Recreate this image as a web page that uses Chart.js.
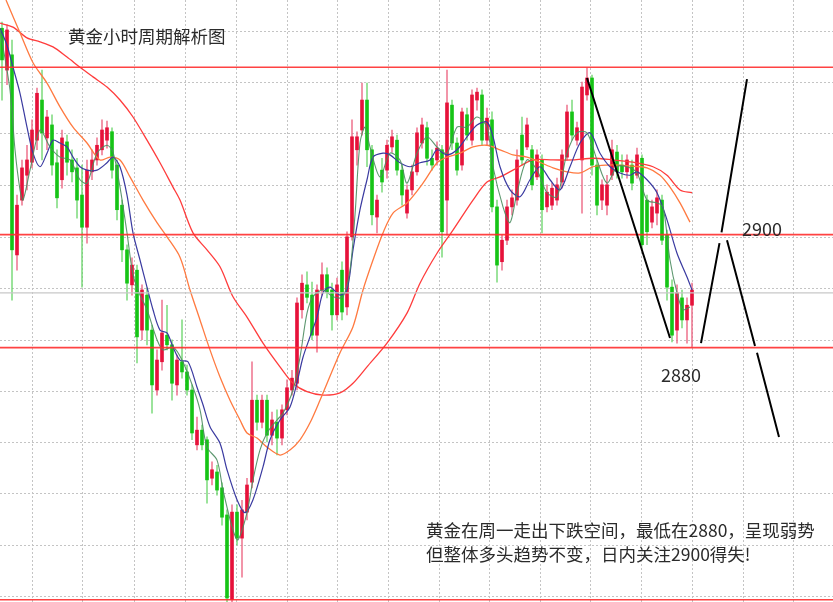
<!DOCTYPE html>
<html>
<head>
<meta charset="utf-8">
<script src="https://cdn.jsdelivr.net/npm/chart.js@4.4.1/dist/chart.umd.min.js"></script>
<style>
html,body{margin:0;padding:0;background:#fff;}
#wrap{position:relative;width:833px;height:602px;overflow:hidden;background:#fff;}
canvas{display:block;}
.t{position:absolute;font-family:"Noto Sans CJK SC",sans-serif;color:#2b2b2b;line-height:1;white-space:nowrap;}
</style>
</head>
<body>
<div id="wrap">
  <canvas id="c" width="833" height="602"></canvas>
  <div class="t" style="left:68px;top:26.5px;font-size:17.5px">黄金小时周期解析图</div>
  <div class="t" style="left:742px;top:219px;font-size:18px">2900</div>
  <div class="t" style="left:661px;top:364.5px;font-size:18px">2880</div>
  <div class="t" style="left:426px;top:520.5px;font-size:17.5px">黄金在周一走出下跌空间，最低在2880，呈现弱势</div>
  <div class="t" style="left:426px;top:545px;font-size:17.5px">但整体多头趋势不变，日内关注2900得失!</div>
</div>
<script>
// hourly gold candles (bar index 0..138)
const open = [2936.5,2929.1,2931.8,2896.4,2906.1,2910.5,2912.8,2916.7,2923.8,2917.1,
  2919.4,2912.7,2909.7,2916.4,2913.2,2911.8,2907.0,2901.3,2911.1,2913.2,
  2915.0,2916.7,2918.2,2912.3,2905.2,2897.3,2891.1,2893.7,2883.1,2889.3,
  2883.1,2872.5,2877.5,2882.2,2880.5,2873.4,2877.5,2875.7,2872.5,2862.8,
  2865.4,2863.7,2856.9,2858.0,2855.2,2850.4,2835.4,2850.9,2846.3,2850.9,
  2856.2,2870.7,2866.8,2870.7,2864.5,2866.8,2864.0,2869.0,2872.5,2873.7,
  2886.7,2891.1,2889.3,2882.2,2890.2,2892.9,2890.2,2885.8,2893.7,2887.2,
  2899.6,2915.0,2918.5,2923.8,2915.0,2903.1,2911.4,2911.4,2915.5,2916.7,
  2911.4,2903.8,2907.9,2911.1,2916.2,2918.9,2913.5,2913.2,2915.0,2906.1,
  2922.9,2916.2,2912.3,2921.2,2916.7,2923.8,2924.7,2916.7,2920.3,2904.9,
  2895.2,2899.0,2904.9,2906.1,2917.6,2915.5,2915.0,2910.2,2913.2,2904.9,
  2905.2,2906.1,2909.3,2913.7,2921.7,2916.7,2913.2,2924.7,2927.7,2912.3,
  2906.1,2905.2,2910.5,2914.6,2912.3,2911.1,2912.3,2910.5,2913.5,2906.1,
  2902.2,2903.8,2906.1,2899.9,2890.7,2883.1,2888.8,2884.9,2887.5];
const close = [2930.9,2936.2,2897.3,2905.2,2911.8,2913.2,2918.5,2925.0,2918.0,2920.8,
  2912.3,2906.5,2917.1,2912.8,2911.1,2906.1,2901.3,2911.4,2913.2,2915.8,
  2918.5,2918.9,2911.4,2904.4,2897.3,2891.4,2894.6,2881.9,2890.2,2883.1,
  2873.4,2877.8,2882.6,2880.5,2873.7,2877.8,2875.7,2872.5,2864.9,2865.4,
  2862.8,2856.6,2858.4,2854.8,2850.0,2835.7,2850.9,2846.3,2851.3,2855.7,
  2870.7,2866.8,2870.7,2864.5,2867.2,2864.0,2869.0,2872.9,2874.6,2887.9,
  2891.4,2888.9,2882.2,2890.2,2892.9,2889.8,2885.8,2891.1,2886.3,2899.6,
  2917.3,2917.3,2923.8,2915.0,2903.5,2906.1,2909.3,2915.8,2917.3,2911.4,
  2907.0,2907.9,2911.1,2918.0,2919.4,2913.5,2912.3,2915.3,2900.5,2923.3,
  2916.2,2911.4,2921.7,2917.6,2924.7,2925.2,2916.7,2920.6,2904.9,2894.6,
  2899.0,2904.9,2906.5,2913.2,2913.2,2919.4,2908.8,2914.1,2904.4,2907.5,
  2908.2,2908.8,2914.1,2921.7,2917.6,2918.9,2926.1,2927.7,2912.3,2905.2,
  2908.8,2908.8,2915.0,2911.1,2911.1,2913.2,2909.1,2914.1,2898.2,2900.5,
  2904.9,2906.5,2899.0,2890.7,2882.2,2889.7,2884.9,2887.5,2890.2];
const high = [2937.6,2937.1,2934.4,2907.0,2913.2,2915.8,2920.3,2925.9,2929.1,2922.0,
  2921.2,2915.0,2918.5,2917.6,2915.0,2913.5,2912.3,2913.2,2915.0,2917.1,
  2920.3,2920.1,2918.9,2913.2,2906.1,2898.2,2895.9,2894.6,2891.1,2890.6,
  2884.0,2879.6,2888.4,2887.5,2881.4,2878.7,2884.9,2876.9,2873.4,2867.7,
  2866.3,2864.2,2859.8,2859.2,2856.1,2851.3,2852.2,2852.2,2853.0,2856.9,
  2877.5,2871.6,2871.6,2871.6,2868.6,2869.0,2869.9,2874.3,2876.0,2888.8,
  2892.9,2893.4,2891.6,2891.1,2895.0,2894.1,2891.4,2892.3,2895.2,2900.5,
  2920.3,2918.2,2926.8,2926.8,2915.8,2907.0,2913.5,2916.7,2918.5,2917.6,
  2912.3,2908.8,2912.3,2918.9,2920.6,2919.9,2915.0,2916.4,2915.8,2929.1,
  2923.8,2917.1,2922.4,2922.4,2925.6,2925.9,2925.6,2922.4,2921.7,2906.1,
  2899.9,2906.1,2907.9,2915.0,2920.8,2920.6,2915.8,2915.0,2914.1,2908.8,
  2909.1,2910.0,2915.0,2922.9,2923.8,2919.9,2927.0,2929.5,2928.2,2913.2,
  2909.7,2910.5,2916.7,2915.8,2914.1,2914.1,2913.2,2915.3,2914.1,2907.0,
  2906.1,2907.9,2907.0,2900.8,2892.0,2891.1,2890.2,2888.8,2891.4];
const low = [2923.8,2926.5,2888.4,2893.7,2905.2,2907.9,2911.8,2915.0,2913.2,2915.0,
  2910.5,2904.7,2908.2,2910.5,2909.3,2902.9,2890.7,2898.5,2909.7,2912.3,
  2914.1,2915.3,2910.0,2902.6,2895.2,2888.4,2889.3,2877.3,2881.4,2880.5,
  2868.4,2871.6,2876.0,2879.6,2870.7,2871.6,2874.6,2871.6,2863.7,2861.9,
  2861.9,2852.5,2855.7,2853.9,2848.6,2835.0,2835.0,2845.1,2839.4,2849.5,
  2855.2,2865.4,2865.8,2863.3,2862.8,2861.0,2862.8,2868.1,2871.6,2872.5,
  2885.2,2887.9,2881.4,2879.2,2889.3,2888.8,2883.1,2884.9,2884.9,2885.8,
  2899.0,2912.3,2917.6,2912.0,2901.7,2900.3,2907.5,2910.0,2914.6,2910.5,
  2905.2,2902.9,2907.0,2910.5,2915.3,2912.3,2911.4,2912.3,2896.0,2899.9,
  2915.0,2910.5,2911.4,2916.7,2915.8,2922.0,2915.8,2915.8,2904.0,2891.6,
  2893.7,2898.2,2903.5,2905.2,2912.3,2915.0,2907.9,2909.7,2900.3,2904.0,
  2904.4,2905.2,2908.2,2913.2,2916.7,2915.8,2903.8,2923.8,2910.5,2903.5,
  2904.4,2903.5,2909.7,2910.0,2910.0,2910.0,2907.9,2910.0,2897.3,2898.2,
  2901.2,2901.7,2898.2,2888.4,2881.0,2880.8,2883.5,2880.8,2880.1];

// moving averages, [bar, price]
const maFast = [[-0.4,2936.2],[1.6,2925.6],[2.6,2915.0],[3.6,2907.9],[4.2,2906.1],[5.6,2911.4],[7.6,2918.5],[9.6,2915.5],
  [11.6,2913.7],[13.6,2913.2],[15.6,2909.7],[17.0,2909.1],[19.0,2914.4],[21.0,2915.8],[22.2,2914.6],[23.6,2908.4],
  [25.0,2900.3],[26.2,2892.9],[27.6,2889.3],[29.0,2886.7],[31.0,2881.4],[32.2,2879.6],[34.2,2880.1],[36.0,2877.8],
  [38.2,2873.0],[39.6,2869.0],[41.0,2862.4],[43.0,2860.1],[44.2,2854.8],[46.2,2847.7],[47.2,2846.0],[49.0,2850.8],
  [50.2,2856.6],[51.6,2861.9],[53.0,2864.9],[55.0,2867.2],[56.2,2868.4],[58.2,2872.5],[59.6,2878.3],[61.0,2886.1],
  [62.2,2889.0],[64.2,2890.2],[66.2,2889.0],[68.2,2889.0],[69.6,2893.7],[70.6,2903.5],[71.6,2916.2],[72.6,2919.0],
  [73.6,2915.5],[75.6,2910.2],[77.6,2914.4],[79.6,2913.2],[81.0,2909.1],[83.0,2914.4],[85.0,2917.3],[87.0,2915.5],
  [89.0,2914.4],[91.0,2919.0],[93.0,2919.0],[95.0,2920.8],[97.0,2919.0],[98.2,2912.0],[100.2,2904.9],[101.6,2902.1],
  [103.0,2907.4],[105.0,2913.2],[107.0,2911.4],[109.0,2907.4],[111.0,2906.7],[113.0,2914.4],[115.0,2918.0],[117.0,2918.0],
  [119.0,2913.2],[121.0,2909.1],[123.0,2912.0],[125.0,2912.0],[127.0,2910.9],[129.0,2906.1],[131.0,2905.6],[132.2,2904.9],
  [133.6,2895.5],[135.0,2889.7],[136.2,2886.7],[137.6,2887.2]];
const maMid = [[-0.4,2936.5],[1.0,2933.5],[2.2,2929.6],[3.6,2925.0],[5.0,2919.0],[6.2,2914.4],[7.6,2912.0],[9.0,2914.4],
  [10.2,2916.7],[11.6,2916.2],[13.0,2915.5],[14.2,2913.7],[15.6,2912.0],[17.0,2911.4],[19.0,2911.4],[21.0,2912.7],
  [22.2,2913.7],[23.6,2912.0],[25.0,2907.0],[26.2,2900.3],[27.6,2895.5],[29.0,2890.7],[30.2,2886.7],[31.6,2883.1],
  [33.0,2882.6],[34.2,2880.1],[35.6,2877.8],[37.2,2877.5],[39.0,2873.0],[40.2,2869.9],[41.6,2866.0],[43.6,2863.1],
  [45.0,2858.4],[47.0,2853.1],[48.6,2850.8],[50.2,2853.1],[52.2,2858.9],[53.6,2863.7],[55.6,2867.2],[57.6,2869.5],
  [59.0,2873.8],[60.2,2878.3],[61.6,2881.9],[63.0,2885.4],[64.2,2889.7],[65.6,2890.7],[67.6,2889.3],[69.0,2890.2],
  [70.2,2897.3],[71.6,2904.4],[73.0,2909.7],[74.2,2913.7],[76.2,2914.4],[77.6,2914.1],[79.6,2912.7],[81.6,2912.0],
  [83.6,2912.7],[85.6,2913.2],[87.0,2915.0],[89.0,2914.1],[91.0,2915.0],[93.0,2917.3],[95.0,2919.4],[97.0,2919.9],
  [98.2,2917.3],[99.6,2912.0],[101.6,2907.9],[103.6,2906.7],[105.6,2909.7],[107.6,2912.0],[109.6,2909.7],[111.6,2907.9],
  [113.6,2912.0],[115.6,2916.2],[117.6,2918.0],[119.6,2914.4],[121.6,2912.0],[123.6,2910.9],[125.6,2910.5],[127.0,2911.1],
  [129.0,2909.7],[131.0,2907.4],[133.0,2902.6],[135.0,2896.7],[137.0,2892.5],[138.0,2890.2]];
const maSlow = [[0.8,2941.5],[3.6,2935.7],[6.2,2930.4],[9.0,2926.8],[11.6,2922.6],[14.2,2919.0],[17.0,2916.2],[19.6,2913.2],
  [21.6,2913.7],[23.6,2913.2],[25.6,2910.2],[28.2,2906.1],[31.0,2902.1],[33.0,2899.6],[35.6,2896.0],[37.6,2890.2],
  [39.6,2884.9],[41.6,2879.6],[43.6,2874.8],[45.6,2870.7],[47.6,2867.2],[49.0,2864.9],[51.0,2864.0],[53.0,2862.4],
  [55.6,2861.0],[57.6,2861.9],[59.6,2863.7],[61.6,2866.7],[63.6,2870.7],[67.6,2879.1],[70.2,2883.7],[72.2,2890.2],
  [74.2,2895.5],[76.2,2900.3],[78.2,2903.8],[81.0,2905.6],[84.2,2909.1],[87.0,2912.7],[89.0,2913.7],[91.6,2914.4],
  [94.2,2915.5],[97.0,2915.8],[99.6,2915.0],[102.2,2914.1],[105.0,2913.7],[107.6,2912.8],[110.2,2911.8],[113.0,2911.1],
  [115.6,2910.9],[118.2,2912.0],[121.0,2912.3],[123.6,2912.3],[126.2,2912.1],[129.0,2911.8],[131.6,2910.5],[133.6,2908.4],
  [135.6,2905.6],[137.6,2902.2]];
const maLong = [[-0.4,2937.4],[2.2,2936.7],[5.0,2934.8],[7.6,2934.1],[10.2,2933.2],[13.0,2931.4],[15.6,2929.6],[18.2,2927.9],
  [21.0,2926.1],[23.6,2923.8],[26.2,2920.8],[29.0,2916.7],[31.6,2912.7],[34.2,2908.4],[35.6,2906.1],[38.2,2900.3],
  [41.0,2897.3],[43.6,2894.3],[46.2,2889.0],[49.0,2885.4],[52.2,2880.8],[55.6,2876.6],[58.2,2873.7],[61.0,2872.2],
  [64.2,2871.6],[67.6,2872.0],[70.2,2873.7],[73.0,2876.6],[77.0,2880.8],[81.0,2886.1],[83.6,2891.4],[87.0,2896.7],
  [90.2,2900.8],[94.2,2906.1],[97.0,2909.3],[99.6,2910.2],[102.2,2911.4],[106.2,2913.2],[110.2,2913.2],[114.2,2913.2],
  [118.2,2913.5],[122.2,2913.2],[126.2,2912.8],[130.2,2912.0],[133.0,2910.5],[135.6,2907.9],[138.0,2907.4]];

// horizontal levels and the hand-drawn path
const levels = [2929.6, 2900, 2880, 2835.4];
const bidPrice = 2889.7;
const drawA = [[117.0,2927.7],[133.6,2881.7]];
const drawB = [[139.8,2880.8],[143.5,2898.5],null,[143.9,2900.4],[149.0,2927.5]];
const drawC = [[145.0,2899.0],[150.6,2880.3],null,[151.0,2879.1],[155.4,2864.2]];

// dotted grid positions (bar units / price)
const gridBars = [6,16.2,26.4,36.6,46.8,57,67,77.2,87.4,97.4,107.6,117.6,127.8,138,148.2,158.2];
const gridPrices = [2935.84,2926.82,2917.80,2908.77,2899.57,2890.38,2881.35,2872.16,2863.13,2854.11,2844.91,2835.89];

const X0 = -0.4, X1 = 166.2;
const up = close.map((c,i) => c >= open[i]);
// null entries become gaps in the drawn path
const pts = arr => arr.map((p,i) => p ? {x:p[0], y:p[1]} : {x:arr[i-1][0], y:null});
const hline = (p) => [{x:X0, y:p},{x:X1, y:p}];

function lineDs(data, color, width, order){
  return {type:'line', data, borderColor:color, borderWidth:width, pointRadius:0,
    tension:0.3, fill:false, order, spanGaps:false};
}

const datasets = [
  lineDs(pts(drawA), '#000', 2, 0),
  lineDs(pts(drawB), '#000', 2, 0),
  lineDs(pts(drawC), '#000', 2, 0),
  ...levels.map(p => lineDs(hline(p), 'rgba(255,45,45,0.9)', 1.6, 1)),
  lineDs(hline(bidPrice), '#c8c8c8', 1.2, 2),
  lineDs(pts(maFast), 'rgba(75,140,95,0.9)', 1.1, 3),
  lineDs(pts(maMid), '#3a3aa0', 1.2, 3),
  lineDs(pts(maSlow), '#ff7a40', 1.3, 4),
  lineDs(pts(maLong), '#ff3c3c', 1.3, 5),
  {type:'bar', data: open.map((o,i) => ({x:i, y:[open[i], close[i]]})),
    backgroundColor: up.map(u => u ? '#e6123a' : '#16c416'),
    barThickness:3, grouped:false, borderWidth:0, order:6},
  {type:'bar', data: open.map((o,i) => ({x:i, y:[low[i], high[i]]})),
    backgroundColor: up.map(u => u ? 'rgba(235,95,125,0.8)' : 'rgba(95,210,95,0.75)'),
    barThickness:1, grouped:false, borderWidth:0, order:7}
];

new Chart(document.getElementById('c'), {
  type:'bar',
  data:{datasets},
  options:{
    responsive:false, animation:false, events:[],
    layout:{padding:0},
    plugins:{legend:{display:false}, tooltip:{enabled:false}},
    scales:{
      x:{type:'linear', min:X0, max:X1, offset:false,
        ticks:{display:false}, border:{display:false, dash:[2,2]},
        grid:{offset:false, color:'#c4c4c4', drawTicks:false, lineWidth:1},
        afterBuildTicks: ax => { ax.ticks = gridBars.map(v => ({value:v})); }},
      y:{type:'linear', min:2835, max:2941.5,
        ticks:{display:false}, border:{display:false, dash:[2,2]},
        grid:{color:'#c4c4c4', drawTicks:false, lineWidth:1},
        afterBuildTicks: ax => { ax.ticks = gridPrices.map(v => ({value:v})); }}
    }
  }
});
</script>
</body>
</html>
